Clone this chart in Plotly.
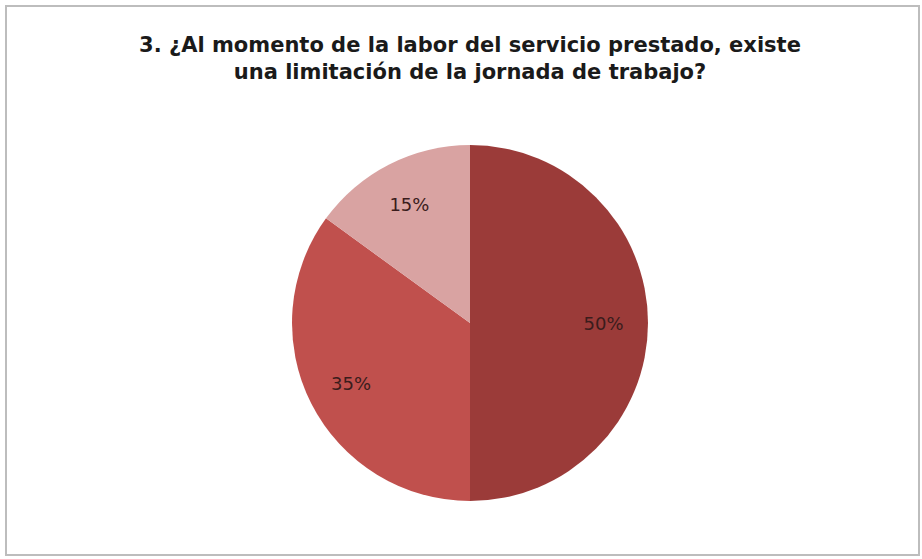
import plotly.graph_objects as go

labels = ["Opción 1", "Opción 2", "Opción 3"]
values = [50, 35, 15]
colors = ["#9B3B39", "#C0504D", "#D9A3A2"]

W, H = 922, 559
cx, cy, r = 470, 323, 178

dom = dict(x=[(cx - r) / W, (cx + r) / W],
           y=[(H - cy - r) / H, (H - cy + r) / H])

# filled pie slices
fig = go.Figure(go.Pie(
    labels=labels,
    values=values,
    sort=False,
    direction="clockwise",
    rotation=0,
    marker=dict(colors=colors, line=dict(width=0)),
    textinfo="none",
    hoverinfo="label+percent",
    domain=dom,
    showlegend=False,
))

# percentage labels (transparent ring so the labels sit toward the outer edge)
fig.add_trace(go.Pie(
    labels=labels,
    values=values,
    sort=False,
    direction="clockwise",
    rotation=0,
    hole=0.5,
    marker=dict(colors=["rgba(0,0,0,0)"] * len(values), line=dict(width=0)),
    texttemplate="%{percent:.0%}",
    textposition="inside",
    insidetextorientation="horizontal",
    textfont=dict(family="DejaVu Sans, Liberation Sans, sans-serif", size=18, color="#3a1c1c"),
    hoverinfo="skip",
    domain=dom,
    showlegend=False,
))

fig.update_layout(
    width=W, height=H,
    margin=dict(l=0, r=0, t=0, b=0),
    paper_bgcolor="white",
    plot_bgcolor="white",
    title=dict(
        text="<b>3. ¿Al momento de la labor del servicio prestado, existe<br>una limitación de la jornada de trabajo?</b>",
        x=cx / W, xanchor="center",
        y=1 - 52 / H, yanchor="top",
        font=dict(family="DejaVu Sans, Liberation Sans, sans-serif", size=21, color="#1a1a1a"),
    ),
    shapes=[dict(
        type="rect", xref="paper", yref="paper",
        x0=6 / W, x1=(W - 3) / W, y0=4 / H, y1=1 - 6 / H,
        line=dict(color="#BDBDBD", width=2), fillcolor="rgba(0,0,0,0)", layer="below",
    )],
)

fig.write_html("out.html", config={"displayModeBar": False},
               post_script="document.body.style.margin='0';")
